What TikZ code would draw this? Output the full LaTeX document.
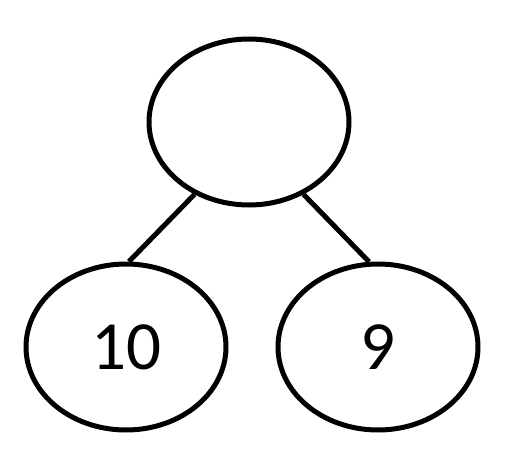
\documentclass[tikz,border=0pt]{standalone}
\usepackage{fontspec}
\setmainfont{Carlito}
\usetikzlibrary{shapes.geometric}

\tikzset{
	treenode/.style={draw, ellipse, line width=5pt, minimum width=200pt, minimum height=166pt, inner sep=0pt, font=\fontsize{69}{80}\selectfont},
	treeedge/.style={line width=5pt}
}

\begin{document}
\begin{tikzpicture}[x=1pt, y=-1pt]
			%%%%% START %%%%%
			
			\useasboundingbox (0, 0) rectangle (517, 468);
			
			\node[treenode] (root) at (249, 122) {};
			\node[treenode] (left) at (126, 347) {\raisebox{-6pt}{10}};
			\node[treenode] (right) at (378, 347) {\raisebox{-6pt}{9}};
			
			\draw[treeedge] (root.233) -- (left.88);
			\draw[treeedge] (root.307) -- (right.96);
			
			%%%%% END %%%%%
		\end{tikzpicture}
\end{document}
